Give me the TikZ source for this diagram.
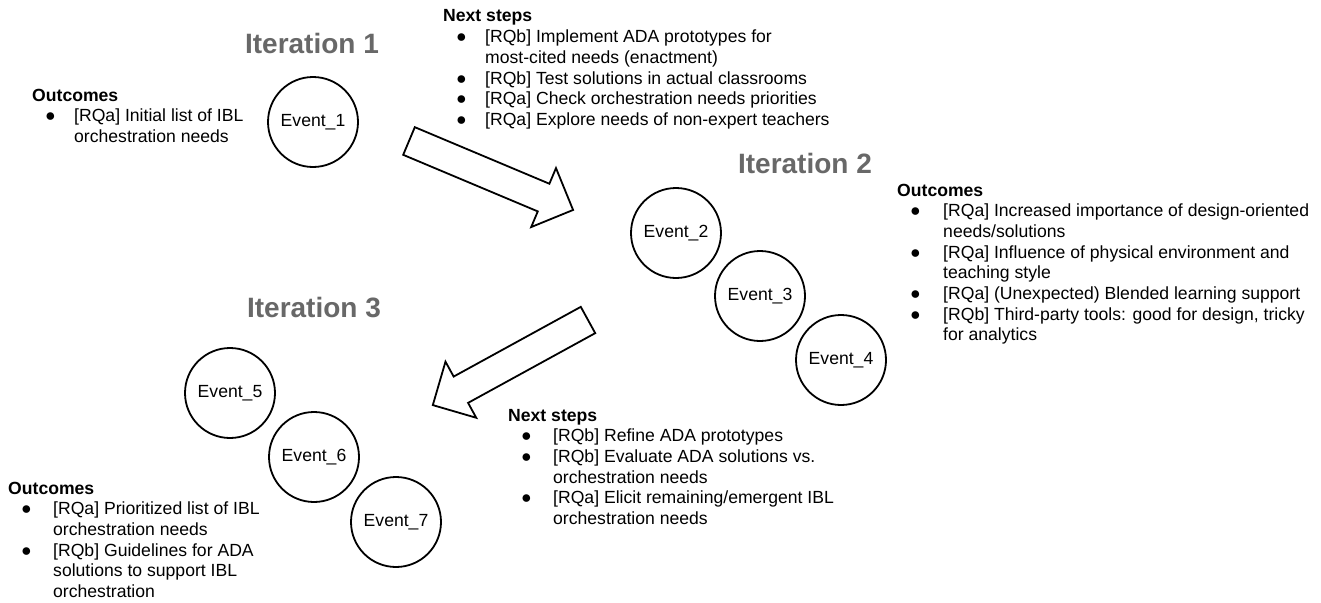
\documentclass[tikz,border=0pt]{standalone}
\usepackage{fontspec}
\setmainfont{Liberation Sans}
\definecolor{titlegray}{HTML}{686868}
\newlength\ind
\newcommand\bl{\hspace*{13pt}\makebox[\dimexpr\ind-13pt\relax][l]{●}}
\newcommand\cn{\hspace*{\ind}}
\tikzset{
  txt/.style={inner sep=0pt, anchor=base west, font=\fontsize{17.6}{20.7}\selectfont},
  ttl/.style={inner sep=0pt, anchor=base, text=titlegray, font=\fontsize{28}{32}\selectfont\bfseries},
  event/.style={circle, draw=black, line width=1.8pt, minimum size=90pt, inner sep=0pt, font=\fontsize{17.6}{20.7}\selectfont},
  blockarrow/.style={draw=black, fill=white, line width=1.8pt, line join=miter}
}
\begin{document}
\begin{tikzpicture}[x=1pt,y=-1pt]
\useasboundingbox (0,0) rectangle (1321,602);

% titles
\node[ttl] (t1) at (312,53) {Iteration 1};
\node[ttl] (t2) at (805,173) {Iteration 2};
\node[ttl] (t3) at (314,317) {Iteration 3};

% events
\node[event] (e1) at (313,122) {Event\_1};
\node[event] (e2) at (676,233) {Event\_2};
\node[event] (e3) at (760,296) {Event\_3};
\node[event] (e4) at (841,360) {Event\_4};
\node[event] (e5) at (230,393) {Event\_5};
\node[event] (e6) at (314,457) {Event\_6};
\node[event] (e7) at (396,522) {Event\_7};

% block arrows
\coordinate (a1) at (409,141);
\coordinate (a2) at (588,320);
\begin{scope}[shift={(a1)}, rotate=-22.8]
\draw[blockarrow] (0,15) -- (146,15) -- (146,32) -- (178,0) -- (146,-32) -- (146,-15) -- (0,-15) -- cycle;
\end{scope}
\begin{scope}[shift={(a2)}, rotate=-151.26]
\draw[blockarrow] (0,15) -- (145,15) -- (145,32) -- (177,0) -- (145,-32) -- (145,-15) -- (0,-15) -- cycle;
\end{scope}

% text blocks
\node[txt] (o1) at (32,101) {\setlength\ind{42pt}\begin{tabular}[t]{@{}l@{}}
\textbf{Outcomes}\\
\bl[RQa] Initial list of IBL\\
\cn orchestration needs
\end{tabular}};

\node[txt] (n1) at (443,22) {\setlength\ind{42pt}\begin{tabular}[t]{@{}l@{}}
\textbf{Next steps}\\
\bl[RQb] Implement ADA prototypes for\\
\cn most-cited needs (enactment)\\
\bl[RQb] Test solutions in actual classrooms\\
\bl[RQa] Check orchestration needs priorities\\
\bl[RQa] Explore needs of non-expert teachers
\end{tabular}};

\node[txt] (o2) at (897,196) {\setlength\ind{46pt}\begin{tabular}[t]{@{}l@{}}
\textbf{Outcomes}\\
\bl[RQa] Increased importance of design-oriented\\
\cn needs/solutions\\
\bl[RQa] Influence of physical environment and\\
\cn teaching style\\
\bl[RQa] (Unexpected) Blended learning support\\
\bl[RQb] Third-party tools: good for design, tricky\\
\cn for analytics
\end{tabular}};

\node[txt] (n3) at (508,421) {\setlength\ind{45pt}\begin{tabular}[t]{@{}l@{}}
\textbf{Next steps}\\
\bl[RQb] Refine ADA prototypes\\
\bl[RQb] Evaluate ADA solutions vs.\\
\cn orchestration needs\\
\bl[RQa] Elicit remaining/emergent IBL\\
\cn orchestration needs
\end{tabular}};

\node[txt] (o3) at (8,494) {\setlength\ind{45pt}\begin{tabular}[t]{@{}l@{}}
\textbf{Outcomes}\\
\bl[RQa] Prioritized list of IBL\\
\cn orchestration needs\\
\bl[RQb] Guidelines for ADA\\
\cn solutions to support IBL\\
\cn orchestration
\end{tabular}};
\end{tikzpicture}
\end{document}
